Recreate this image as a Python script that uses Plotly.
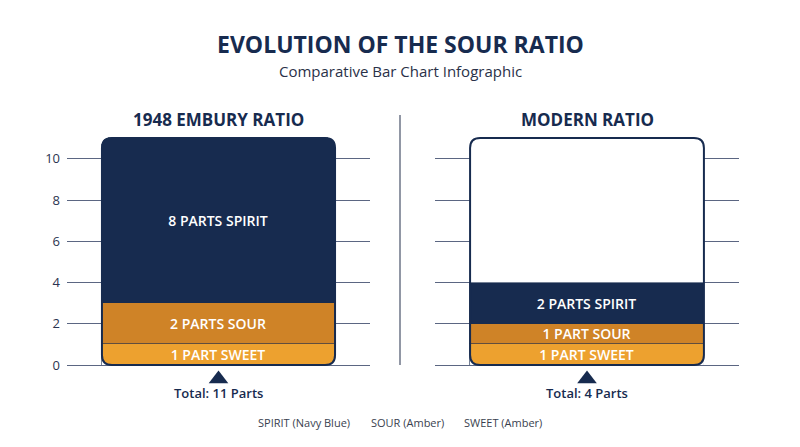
import plotly.graph_objects as go

# datos de las dos recetas
paneles = ["1948 EMBURY RATIO", "MODERN RATIO"]
partes_spirit = [8, 2]
partes_sour = [2, 1]
partes_sweet = [1, 1]
ticks_y = [0, 2, 4, 6, 8, 10]
leyenda = ["SPIRIT (Navy Blue)", "SOUR (Amber)", "SWEET (Amber)"]

NAVY = "#172b4f"
SOUR = "#cf8327"
SWEET = "#eda12f"
GRID = "#5b6682"
FUENTE = "Open Sans"

# la página deja 8px de margen, así que el gráfico es un poco más chico
OFF = 8
W, H = 800 - OFF, 447 - OFF


def fx(p):
    return (p - OFF) / W


def fy(p):
    return 1 - (p - OFF) / H


ancho_barra = 1.0
rango_x = [-0.65, 0.65]
rango_y = [-2.0, 11.2]
px_unidad = 20.625
cero_px = 365
dominios = [[fx(67), fx(370)], [fx(435), fx(739)]]
dominio_y = [fy(cero_px - rango_y[0] * px_unidad), fy(cero_px - rango_y[1] * px_unidad)]
radio_px = 10


def etiqueta(n, nombre):
    return f"{n} PART{'S' if n > 1 else ''} {nombre}"


def texto(x, y, t, size, color=NAVY, weight="normal", xref="paper", yref="paper"):
    fig.add_annotation(x=x, y=y, xref=xref, yref=yref, text=t, showarrow=False,
                       xanchor="center", yanchor="middle",
                       font=dict(family=FUENTE, size=size, color=color, weight=weight))


fig = go.Figure()

alto_contenedor = max(a + b + c for a, b, c in zip(partes_spirit, partes_sour, partes_sweet))

for i, panel in enumerate(paneles):
    xa = "x" if i == 0 else "x2"
    ya = "y" if i == 0 else "y2"
    radio = radio_px if i == 0 else 0
    capas = [
        (partes_sweet[i], "SWEET", SWEET),
        (partes_sour[i], "SOUR", SOUR),
        (partes_spirit[i], "SPIRIT", NAVY),
    ]
    for n, nombre, color in capas:
        fig.add_trace(go.Bar(
            x=[0], y=[n], width=ancho_barra,
            xaxis=xa, yaxis=ya,
            marker=dict(color=color, cornerradius=radio,
                        line=dict(width=1, color="rgba(23,43,79,0.6)")),
            text=[etiqueta(n, nombre)],
            textposition="inside", insidetextanchor="middle", textangle=0,
            textfont=dict(family=FUENTE, size=14, color="white", weight=600),
            hoverinfo="skip", showlegend=False,
        ))

    total = partes_spirit[i] + partes_sour[i] + partes_sweet[i]
    # flecha debajo de la barra
    fig.add_trace(go.Scatter(
        x=[0], y=[-0.68], xaxis=xa, yaxis=ya, mode="markers",
        marker=dict(symbol="triangle-up", size=17, color=NAVY),
        cliponaxis=False, hoverinfo="skip", showlegend=False,
    ))
    texto(0, -1.36, f"Total: {total} Parts", 13, weight=600, xref=xa, yref=ya)
    texto(0.5, fy(120), f"<b>{panel}</b>", 17, xref=f"{xa} domain")

    # contenedor redondeado
    px_por_x = (dominios[i][1] - dominios[i][0]) * W / (rango_x[1] - rango_x[0])
    rx = radio_px / px_por_x
    ry = radio_px / px_unidad
    x0, x1 = -ancho_barra / 2, ancho_barra / 2
    h = alto_contenedor
    camino = (f"M {x0 + rx},0 L {x1 - rx},0 Q {x1},0 {x1},{ry} L {x1},{h - ry} "
              f"Q {x1},{h} {x1 - rx},{h} L {x0 + rx},{h} Q {x0},{h} {x0},{h - ry} "
              f"L {x0},{ry} Q {x0},0 {x0 + rx},0 Z")
    fig.add_shape(type="path", path=camino, xref=xa, yref=ya, layer="between",
                  fillcolor="white", line=dict(width=0))
    # tapar las esquinas de abajo
    for xc, dx in [(x0, rx), (x1, -rx)]:
        fig.add_shape(type="path", xref=xa, yref=ya, layer="above",
                      path=f"M {xc},0 L {xc + dx},0 Q {xc},0 {xc},{ry} Z",
                      fillcolor="white", line=dict(width=0))
    fig.add_shape(type="path", path=camino, xref=xa, yref=ya, layer="above",
                  line=dict(width=2, color=NAVY))

# separador vertical
fig.add_shape(type="line", xref="paper", yref="paper", x0=fx(400), x1=fx(400),
              y0=fy(365), y1=fy(115), line=dict(color="#6d7487", width=1.5))

texto(fx(400), fy(44), "<b>EVOLUTION OF THE SOUR RATIO</b>", 23)
texto(fx(400), fy(71), "Comparative Bar Chart Infographic", 15, color="#2a3148")

for t, xc in zip(leyenda, [304, 407, 503]):
    texto(fx(xc), fy(422), t, 11, color="#3a3f4f")

eje_x = dict(range=rango_x, visible=False, fixedrange=True)
eje_y = dict(range=rango_y, domain=dominio_y, tickvals=ticks_y, showgrid=True,
             gridcolor=GRID, gridwidth=1,
             zeroline=True, zerolinecolor=GRID, zerolinewidth=1, showline=False,
             ticks="", fixedrange=True)

fig.update_layout(
    width=W, height=H,
    margin=dict(l=0, r=0, t=0, b=0),
    paper_bgcolor="white", plot_bgcolor="white",
    barmode="stack", bargap=0,
    uniformtext=dict(minsize=14, mode="show"),
    xaxis=dict(domain=dominios[0], **eje_x),
    xaxis2=dict(domain=dominios[1], **eje_x),
    yaxis=dict(anchor="x", tickfont=dict(family=FUENTE, size=13, color="#2b3450"),
               ticklabelstandoff=6, **eje_y),
    yaxis2=dict(anchor="x2", showticklabels=False, **eje_y),
    font=dict(family=FUENTE),
)

fig.write_html("out.html")
